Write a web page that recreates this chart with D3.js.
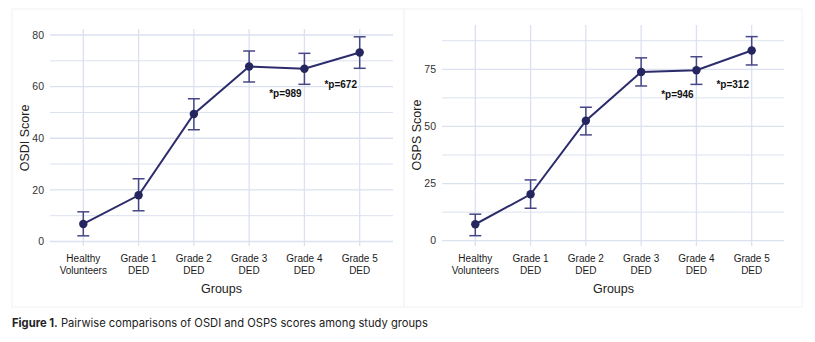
<!DOCTYPE html>
<html>
<head>
<meta charset="utf-8">
<script src="https://cdn.jsdelivr.net/npm/d3@7"></script>
<style>
  body { margin: 0; background: #fff; }
  svg { display: block; }
</style>
</head>
<body>
<svg width="815" height="342"></svg>
<script>
// groups on the x axis (two-line labels)
const groups = ["Healthy Volunteers", "Grade 1 DED", "Grade 2 DED", "Grade 3 DED", "Grade 4 DED", "Grade 5 DED"];
const groupLines = [["Healthy", "Volunteers"], ["Grade 1", "DED"], ["Grade 2", "DED"], ["Grade 3", "DED"], ["Grade 4", "DED"], ["Grade 5", "DED"]];

// OSDI panel
const osdiMean = [6.8, 17.9, 49.4, 67.8, 66.9, 73.2];
const osdiLow  = [2.2, 11.9, 43.3, 61.8, 60.9, 67.1];
const osdiHigh = [11.5, 24.3, 55.3, 73.8, 72.9, 79.3];
const osdiTicks = [0, 20, 40, 60, 80];
const osdiNotes = [{text: "*p=989", group: "Grade 4 DED", y: 56}, {text: "*p=672", group: "Grade 5 DED", y: 59.5}];

// OSPS panel
const ospsMean = [7.2, 20.3, 52.5, 73.8, 74.6, 83.2];
const ospsLow  = [2.2, 14.2, 46.3, 67.7, 68.4, 76.9];
const ospsHigh = [11.6, 26.6, 58.4, 80.0, 80.5, 89.3];
const ospsTicks = [0, 25, 50, 75];
const ospsNotes = [{text: "*p=946", group: "Grade 4 DED", y: 62.5}, {text: "*p=312", group: "Grade 5 DED", y: 66.8}];

const svg = d3.select("svg");
const lineCol = "#2c2c6c";
const errCol = "#474787";
const gridCol = "#dbe1ef";
const font = "'Liberation Sans', Arial, sans-serif";

function panel(opt) {
  const g = svg.append("g");

  // light panel box
  g.append("rect")
    .attr("x", opt.box[0]).attr("y", 9)
    .attr("width", opt.box[1] - opt.box[0]).attr("height", 298)
    .attr("fill", "#fff").attr("stroke", "#f1f2f5").attr("stroke-width", 1);

  const x = d3.scalePoint().domain(groups).range(opt.xr);
  const y = d3.scaleLinear().domain(opt.ydom).range(opt.yr);

  const step = opt.ticks[1] - opt.ticks[0];
  const minor = opt.ticks.map(t => t + step / 2).filter(t => y(t) > opt.gridTop);

  // grid
  g.append("g").selectAll("line.minor").data(minor).join("line")
    .attr("x1", opt.gx[0]).attr("x2", opt.gx[1])
    .attr("y1", d => y(d)).attr("y2", d => y(d))
    .attr("stroke", gridCol).attr("stroke-width", 1);
  g.append("g").selectAll("line.major").data(opt.ticks).join("line")
    .attr("x1", opt.gx[0]).attr("x2", opt.gx[1])
    .attr("y1", d => y(d)).attr("y2", d => y(d))
    .attr("stroke", gridCol).attr("stroke-width", 1.3);
  g.append("g").selectAll("line.v").data(groups).join("line")
    .attr("x1", d => x(d)).attr("x2", d => x(d))
    .attr("y1", opt.gridTop).attr("y2", 246)
    .attr("stroke", gridCol).attr("stroke-width", 1.3);

  // y tick labels
  g.append("g").selectAll("text").data(opt.ticks).join("text")
    .attr("x", opt.gx[0] - 6).attr("y", d => y(d) + 3.7)
    .attr("text-anchor", "end")
    .attr("font-family", font).attr("font-size", 10.5).attr("fill", "#333")
    .text(d => d);

  // x tick labels
  const xl = g.append("g").selectAll("text").data(groups).join("text")
    .attr("text-anchor", "middle")
    .attr("font-family", font).attr("font-size", 10).attr("fill", "#1a1a1a");
  xl.each(function(d, i) {
    const t = d3.select(this);
    groupLines[i].forEach((s, k) => {
      t.append("tspan").attr("x", x(d)).attr("y", 262 + k * 12).text(s);
    });
  });

  // axis titles
  g.append("text")
    .attr("x", d3.mean(opt.xr)).attr("y", 293)
    .attr("text-anchor", "middle")
    .attr("font-family", font).attr("font-size", 12.5).attr("fill", "#222")
    .text("Groups");
  g.append("text")
    .attr("transform", `translate(${opt.ytx},${opt.yty}) rotate(-90)`)
    .attr("text-anchor", "middle")
    .attr("font-family", font).attr("font-size", 12.5).attr("fill", "#222")
    .text(opt.ytitle);

  const data = groups.map((grp, i) => ({grp, m: opt.mean[i], lo: opt.low[i], hi: opt.high[i]}));

  // error bars
  const eb = g.append("g").attr("stroke", errCol).attr("stroke-width", 1.5).attr("fill", "none");
  eb.selectAll("line.v").data(data).join("line")
    .attr("x1", d => x(d.grp)).attr("x2", d => x(d.grp))
    .attr("y1", d => y(d.lo)).attr("y2", d => y(d.hi));
  eb.selectAll("line.t").data(data).join("line")
    .attr("x1", d => x(d.grp) - 6).attr("x2", d => x(d.grp) + 6)
    .attr("y1", d => y(d.hi)).attr("y2", d => y(d.hi));
  eb.selectAll("line.b").data(data).join("line")
    .attr("x1", d => x(d.grp) - 6).attr("x2", d => x(d.grp) + 6)
    .attr("y1", d => y(d.lo)).attr("y2", d => y(d.lo));

  // mean line
  g.append("path").datum(data)
    .attr("fill", "none").attr("stroke", lineCol).attr("stroke-width", 2)
    .attr("d", d3.line().x(d => x(d.grp)).y(d => y(d.m)));

  g.append("g").selectAll("circle").data(data).join("circle")
    .attr("cx", d => x(d.grp)).attr("cy", d => y(d.m)).attr("r", 4.2)
    .attr("fill", "#252560");

  // p-value notes
  g.append("g").selectAll("text").data(opt.notes).join("text")
    .attr("x", d => x(d.group) - 19).attr("y", d => y(d.y))
    .attr("text-anchor", "middle")
    .attr("font-family", font).attr("font-size", 10).attr("font-weight", "bold")
    .attr("fill", "#111")
    .text(d => d.text);
}

panel({
  box: [12, 404], xr: [83.3, 359.7], ydom: [0, 80], yr: [241.5, 35],
  gx: [50, 393], gridTop: 29, ticks: osdiTicks,
  mean: osdiMean, low: osdiLow, high: osdiHigh, notes: osdiNotes,
  ytitle: "OSDI Score", ytx: 29, yty: 138
});

panel({
  box: [404, 802], xr: [475.3, 751.7], ydom: [0, 75], yr: [240.7, 69.3],
  gx: [442, 784], gridTop: 25, ticks: ospsTicks,
  mean: ospsMean, low: ospsLow, high: ospsHigh, notes: ospsNotes,
  ytitle: "OSPS Score", ytx: 421, yty: 135
});

// caption
const cap = svg.append("text")
  .attr("x", 12).attr("y", 327)
  .attr("font-family", "Inter, 'Open Sans', sans-serif").attr("font-size", 11.2).attr("fill", "#222");
cap.append("tspan").attr("font-weight", "bold").text("Figure 1.");
cap.append("tspan").text(" Pairwise comparisons of OSDI and OSPS scores among study groups");
</script>
</body>
</html>
